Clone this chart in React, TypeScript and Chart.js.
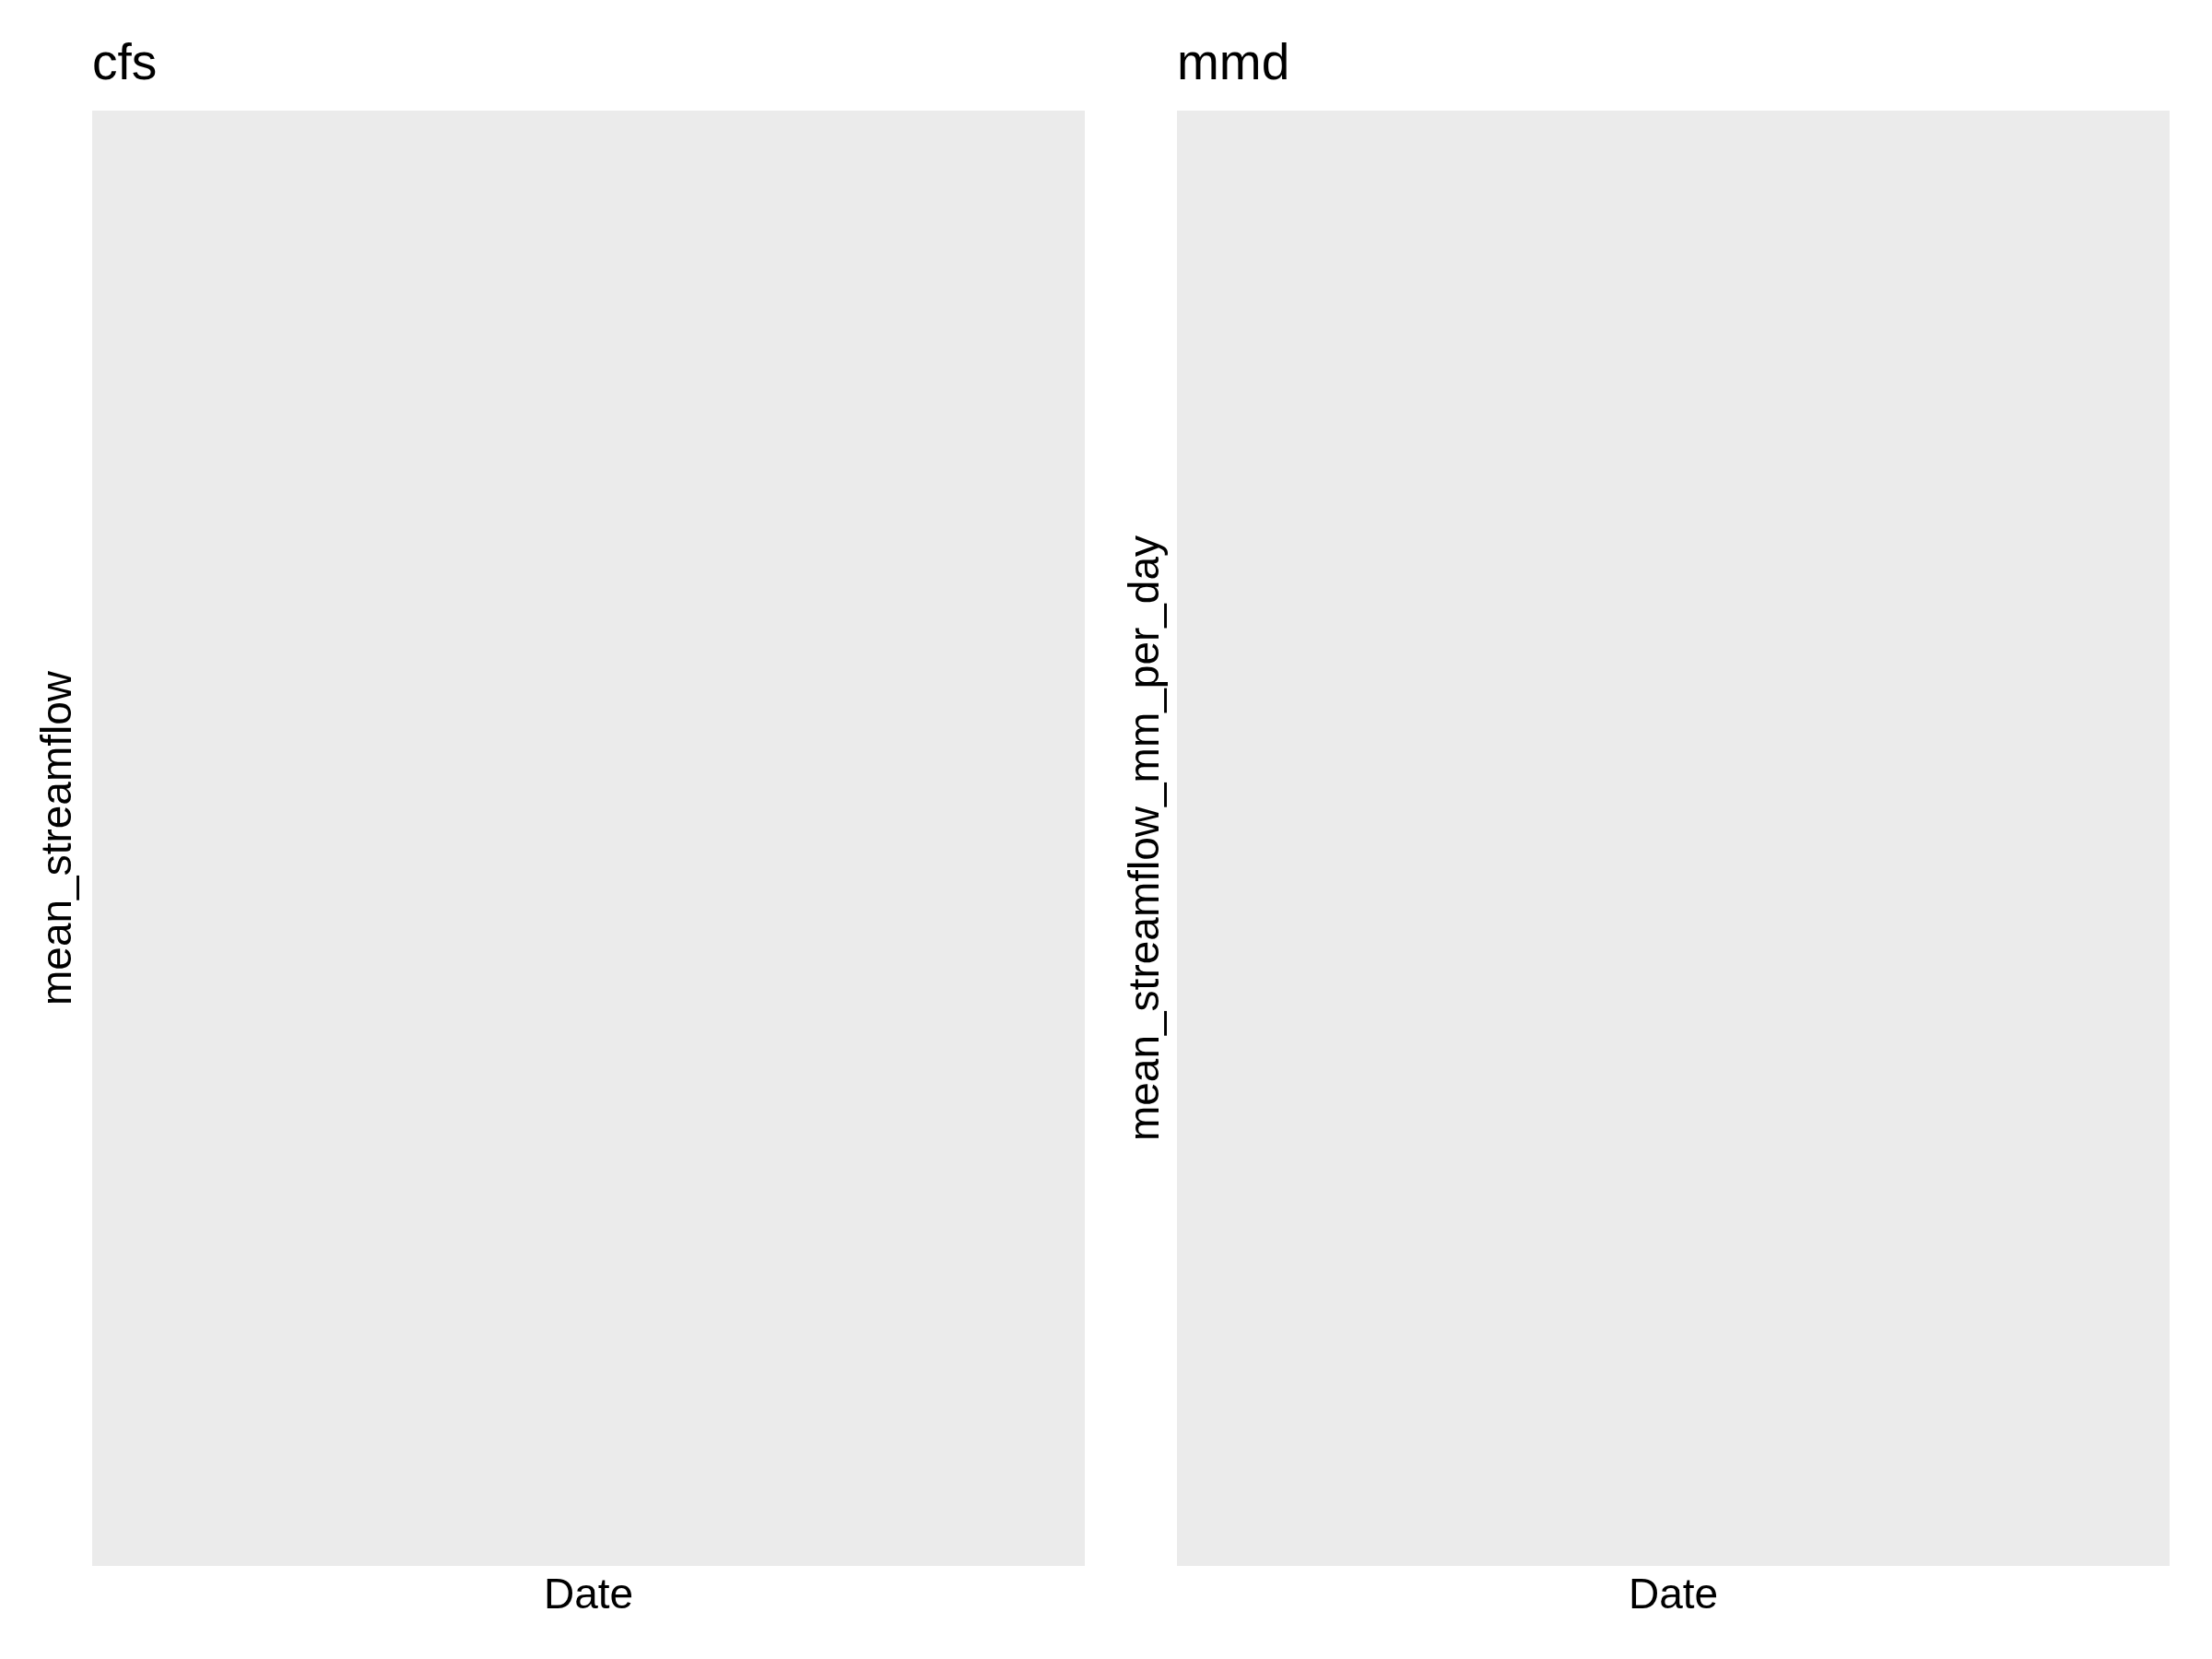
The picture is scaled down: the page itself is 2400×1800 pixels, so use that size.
import React, { useEffect, useRef } from "react";
import { Chart, registerables } from "chart.js";

Chart.register(...registerables);

// Data (the reference panels are empty: no observations)
const cfsDates: string[] = [];
const cfsMeanStreamflow: number[] = [];
const mmdDates: string[] = [];
const mmdMeanStreamflowMmPerDay: number[] = [];

const panelTitles = ["cfs", "mmd"];
const xAxisTitles = ["Date", "Date"];
const yAxisTitles = ["mean_streamflow", "mean_streamflow_mm_per_day"];

const FONT = "'Liberation Sans', Arial, Helvetica, sans-serif";

const panelBg = {
  id: "panelBg",
  beforeDraw(chart: any) {
    const { ctx, chartArea } = chart;
    if (!chartArea) return;
    ctx.save();
    ctx.fillStyle = "#EBEBEB";
    ctx.fillRect(
      chartArea.left,
      chartArea.top,
      chartArea.right - chartArea.left,
      chartArea.bottom - chartArea.top
    );
    ctx.restore();
  },
};

type PanelProps = {
  labels: string[];
  values: number[];
  title: string;
  xTitle: string;
  yTitle: string;
  width: number;
  left: number;
  pad: { right: number };
  yTitlePad: { top: number; bottom: number };
};

function Panel(p: PanelProps) {
  const ref = useRef<HTMLCanvasElement | null>(null);
  useEffect(() => {
    if (!ref.current) return;
    const chart = new Chart(ref.current, {
      type: "line",
      data: {
        labels: p.labels,
        datasets: [
          {
            label: p.yTitle,
            data: p.values,
            borderColor: "#000000",
            pointRadius: 0,
          },
        ],
      },
      options: {
        responsive: false,
        animation: false,
        devicePixelRatio: 1,
        layout: { padding: { left: 0, right: p.pad.right, top: 0, bottom: 0 } },
        plugins: {
          legend: { display: false },
          tooltip: { enabled: false },
          title: {
            display: true,
            text: p.title,
            align: "start",
            fullSize: false,
            color: "#000000",
            font: { family: FONT, size: 55, weight: "normal", lineHeight: 1.2 },
            padding: { top: 37.5, bottom: 16.5 },
          },
        },
        scales: {
          x: {
            type: "category",
            display: true,
            grid: { display: false, drawTicks: false },
            border: { display: false },
            ticks: { display: false },
            title: {
              display: true,
              text: p.xTitle,
              color: "#000000",
              font: { family: FONT, size: 46, weight: "normal", lineHeight: 1.2 },
              padding: { top: 5.5, bottom: 40.3 },
            },
          },
          y: {
            type: "linear",
            display: true,
            grid: { display: false, drawTicks: false },
            border: { display: false },
            ticks: { display: false },
            title: {
              display: true,
              text: p.yTitle,
              color: "#000000",
              font: { family: FONT, size: 46, weight: "normal", lineHeight: 1.2 },
              padding: { top: p.yTitlePad.top, bottom: p.yTitlePad.bottom },
            },
          },
        },
      },
      plugins: [panelBg],
    } as any);
    return () => chart.destroy();
  }, []);
  return (
    <canvas
      ref={ref}
      width={p.width}
      height={1800}
      style={{ position: "absolute", left: p.left, top: 0, width: p.width, height: 1800, display: "block" }}
    />
  );
}

export default function App() {
  return (
    <div style={{ position: "absolute", left: 0, top: 0, width: 2400, height: 1800, background: "#FFFFFF" }}>
      <Panel
        labels={cfsDates}
        values={cfsMeanStreamflow}
        title={panelTitles[0]}
        xTitle={xAxisTitles[0]}
        yTitle={yAxisTitles[0]}
        width={1190}
        left={0}
        pad={{ right: 13 }}
        yTitlePad={{ top: 36.5, bottom: 8.3 }}
      />
      <Panel
        labels={mmdDates}
        values={mmdMeanStreamflowMmPerDay}
        title={panelTitles[1]}
        xTitle={xAxisTitles[1]}
        yTitle={yAxisTitles[1]}
        width={1210}
        left={1190}
        pad={{ right: 46 }}
        yTitlePad={{ top: 26.5, bottom: 5.3 }}
      />
    </div>
  );
}
